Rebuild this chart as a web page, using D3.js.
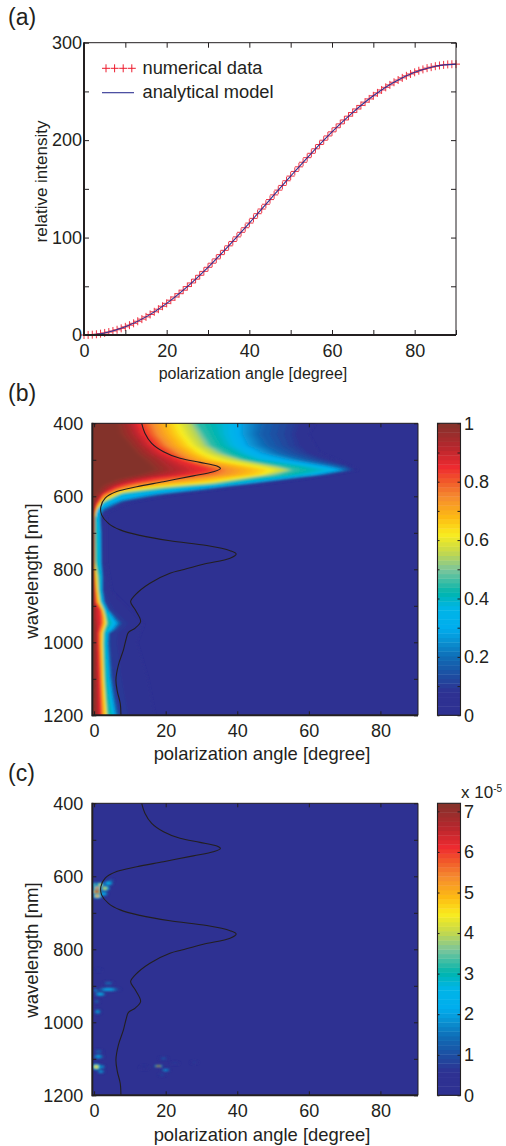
<!DOCTYPE html>
<html><head><meta charset="utf-8">
<script src="https://cdn.jsdelivr.net/npm/d3@7"></script>
<style>
html,body{margin:0;padding:0;background:#fff}
svg{display:block}
text{font-family:"Liberation Sans",Arial,sans-serif;fill:#231f20}
</style></head><body><div id="chart"></div>
<script>
// ---------- data ----------
const numericalData=[0,.08,.34,.76,1.35,2.11,3.04,4.13,5.38,6.8,8.38,10.1,12,14.1,16.3,18.6,21.1,23.8,26.5,29.5,32.5,35.7,39,42.4,46,49.7,53.4,57.3,61.3,65.3,69.5,73.7,78.1,82.5,86.9,91.5,96,100.7,105.4,110.1,114.9,119.7,124.5,129.3,134.2,139,143.8,148.7,153.5,158.3,163.1,167.9,172.6,177.3,182,186.5,191.1,195.5,199.9,204.3,208.5,212.7,216.7,220.7,224.6,228.3,232,235.6,239,242.3,245.5,248.5,251.5,254.2,256.7,259.4,261.7,263.9,266,267.9,269.6,271.2,272.6,273.9,274.9,275.9,276.6,277.2,277.7,277.9,278];
const modelAngles=[0,5,10,15,20,25,30,35,40,45,50,55,60,65,70,75,80,85,90];
const modelValues=[0,2.1,8.4,18.6,32.5,49.7,69.5,91.5,114.9,139,163.1,186.5,208.5,228.3,245.5,259.4,269.6,275.9,278];

// black overlay curve: [wavelength, angle]
const overlayCurve=[[400,13.3],[427,14.2],[455,16.1],[478,19.4],[496,24],[507,29.6],[517,34.3],[524,35.3],[533,33.3],[544,27.7],[560,19.4],[574,11.9],[587,6.3],[605,3.1],[628,1.9],[651,2.1],[674,4],[692,7.3],[707,12.8],[722,21.2],[735,31.5],[749,38],[758,39.7],[770,38],[786,30.5],[802,24.5],[811,21.2],[838,15.6],[870,11.5],[889,10.2],[911,11.5],[943,13],[961,11.5],[973,9.6],[993,8.9],[1021,8.2],[1062,6.8],[1103,6.1],[1135,6.5],[1167,7.3],[1200,7.5]];

// iso-intensity outlines of panel (b): [wavelength, angle]
const contour02=[[400,62],[430,60],[480,63],[500,68],[528,74],[551,60],[574,41],[592,25],[615,11],[642,4],[660,3.5],[780,3.5],[860,5],[900,9],[950,14],[1000,12],[1100,15],[1200,17]];
const contour08=[[400,56],[430,55],[460,56],[482,59],[500,64],[517,70.7],[528,72.4],[540,66],[551,57],[563,47],[574,38],[582,32],[592,22],[615,8],[642,2.6],[660,1.8],[700,2.2],[780,2.2],[820,2.6],[857,2.6],[890,3.2],[911,4.3],[930,6.4],[948,8],[965,6.4],[975,4.5],[1003,4.5],[1094,5.2],[1149,6.1],[1200,7.1]];
const contour15=[[400,48],[430,47],[460,49],[482,53],[500,59],[517,68],[528,71],[540,64],[551,55],[563,45],[574,36],[582,30],[592,20],[612,8],[638,2.5],[655,1.6],[700,1.9],[780,2],[820,2.3],[857,2.3],[890,2.9],[911,4],[930,5.7],[948,7.2],[965,5.8],[975,4.2],[1003,4.1],[1094,4.8],[1149,5.6],[1200,6.6]];
const contour25=[[400,41.5],[430,41.5],[460,43],[482,47],[500,54],[517,64],[528,69],[540,62],[551,53],[563,43],[574,34],[582,27],[592,18],[610,7.5],[632,2.4],[650,1.5],[700,1.7],[780,1.8],[820,2.1],[857,2.1],[890,2.6],[911,3.6],[930,5],[948,6.3],[965,5],[975,3.8],[1003,3.6],[1094,4.2],[1149,5],[1200,5.8]];
const contour35=[[400,37.5],[430,37.5],[460,39],[482,42.5],[500,47],[517,60],[528,66],[540,60],[551,50],[563,40],[570,34],[580,22],[596,8],[621,2.6],[642,.8],[700,1.3],[780,1.5],[820,1.9],[857,1.9],[890,2.2],[911,3.3],[930,4.4],[948,5.2],[965,4.1],[975,3.4],[1003,3.3],[1094,3.9],[1149,4.5],[1200,5.4]];
const contour43=[[400,29],[430,31],[460,33],[482,37],[500,42],[517,52],[528,56],[540,52],[551,44],[563,36],[566,34],[578,20],[592,8],[617,2.6],[638,.7],[660,.3],[780,.4],[820,1.3],[857,1.4],[890,1.9],[911,2.9],[930,3.4],[948,3.8],[965,3],[975,2.8],[1003,2.7],[1094,3],[1149,3.4],[1200,3.9]];
const contour52=[[400,26.8],[430,28.5],[460,30.5],[482,34],[500,40],[517,49],[528,54],[540,49],[551,42],[564,33],[576,19],[589,8],[614,2.6],[636,.7],[660,.2],[780,.3],[820,.9],[857,1.1],[890,1.6],[911,2.6],[930,3.1],[948,3.4],[965,2.8],[975,2.5],[1003,2.4],[1094,2.7],[1149,3.1],[1200,3.5]];
const contour62=[[400,22],[430,23.5],[460,26],[482,29],[500,33],[517,43],[528,48],[540,46],[551,38],[560,32],[572,18],[585,8],[610,2.6],[633,.8],[660,.1],[780,.1],[820,.6],[857,.9],[890,1.3],[911,2.4],[930,2.9],[948,3.1],[965,2.6],[975,2.3],[1003,2.2],[1094,2.5],[1149,2.8],[1200,3.2]];
const contour72=[[400,16.6],[430,18],[460,20.6],[482,24],[500,27],[517,34],[528,37.5],[540,36],[551,28],[565,14],[580,7],[600,2.6],[627,.7],[650,0],[800,0],[857,.5],[890,.9],[911,2.1],[930,2.5],[948,2.5],[975,1.7],[1003,1.7],[1094,2],[1149,2.2],[1200,2.4]];
const contour82=[[400,12.8],[430,14.5],[460,17],[482,20],[500,24],[517,29],[528,32],[541,27],[550,18],[569,8],[592,2.6],[620,.8],[645,0],[840,0],[857,.1],[890,.3],[911,1.7],[948,1.9],[975,1.2],[1003,1.2],[1094,1.5],[1149,1.7],[1200,1.9]];
const contour92=[[400,9.2],[430,10.5],[460,12.8],[482,15],[500,18],[517,20],[528,21],[541,17],[555,9],[575,4],[600,1.2],[625,0],[930,0],[960,.5],[1200,.7]];
const contour98=[[400,5.9],[430,6.5],[460,9.2],[482,11],[500,13],[517,15],[528,15.6],[541,11],[552,6],[568,2],[590,.3],[610,0],[1200,0]];
const contourLevels=[.02,.08,.15,.25,.35,.43,.52,.62,.72,.82,.92,.98];
const contourLines=[contour02,contour08,contour15,contour25,contour35,contour43,contour52,contour62,contour72,contour82,contour92,contour98];

// hot spots of panel (c): angle, wavelength, value (x 1e-5), radius in degrees, radius in nm
const spotAngles=[.75,.9,.9,.5,3,4,2.6,1.7,4.6, 4,.75,4,1.7,.75,1,1.2,1.2,1.2,.6,1.9,1.9,18,19.4,20,19,22.6,28,14];
const spotWaves=[642,633,654,624,633,619,648,624,613, 893,912,910,923,943,971,857,1080,1094,1122,1122,1135,1120,1099,1131,1144,1112,1110,1124];
const spotValues=[6.8,5.6,5,4,4.2,2.5,2.3,4.3,1.6, 1.4,2.2,2.2,2.3,1.3,1.9,.8,1.3,2,4.5,2.4,1.9,7,1.2,2,1,.8,.8,.4];
const spotRadA=[.9,.9,.9,.8,1,1,1,.9,.8, 1.2,.8,2.4,1.2,.7,.8,.8,1.1,1.2,1,.9,.9,.8,1,1,.8,.9,.8,1];
const spotRadW=[5,5,5,5,5,5,5,5,4, 4,4,4,4,4,5,3,4,5,6,4,4,2,3,3,3,3,3,4];

const colorStops=[0,.08,.13,.2,.25,.3,.37,.42,.5,.56,.62,.68,.75,.8,.85,.92,1];
const colorValues=["#2e3192","#2e3192","#1f4a9f","#0f6cb6","#0a8fd0","#00aeef","#00b5e6","#00b5ad","#7dc69b","#c5d94a","#f9ec1f","#fdb913","#f58a30","#f15a29","#ee2a30","#b5272d","#83332b"];

const angleTicksA=[0,10,20,30,40,50,60,70,80,90];
const angleLabels=[0,20,40,60,80];
const angleTicksB=[0,20,40,60,80];
const intensityTicks=[0,50,100,150,200,250,300];
const intensityLabels=[0,100,200,300];
const waveTicks=[400,500,600,700,800,900,1000,1100,1200];
const waveLabels=[400,600,800,1000,1200];
const barTicksB=[0,.1,.2,.3,.4,.5,.6,.7,.8,.9,1];
const barLabelsB=[0,.2,.4,.6,.8,1];
const barTicksC=[0,1,2,3,4,5,6,7];

// ---------- drawing ----------
const W=506,H=1146,ink="#231f20",tickFs=18;
const svg=d3.select("#chart").append("svg").attr("width",W).attr("height",H).attr("viewBox",`0 0 ${W} ${H}`);
const defs=svg.append("defs");
const cmap=d3.scaleLinear().domain(colorStops).range(colorValues).clamp(true);
const blur=(id,s)=>defs.append("filter").attr("id",id).attr("filterUnits","userSpaceOnUse")
  .attr("x",0).attr("y",0).attr("width",W).attr("height",H).append("feGaussianBlur").attr("stdDeviation",s);
blur("soft","1 1");blur("spot","0.85 0.8");

function clip(id,x0,y0,w,h){defs.append("clipPath").attr("id",id).append("rect").attr("x",x0).attr("y",y0).attr("width",w).attr("height",h);}

function axes(x,y,xt,xl,yt,yl,tick,yPad){
  const [x0,x1]=x.range(),y0=Math.min(...y.range()),y1=Math.max(...y.range());
  const fmt=(lab)=>d=>lab.includes(d)?d:"";
  const g=svg.append("g");
  const ax=(gen,tr)=>{const a=g.append("g").attr("transform",tr).call(gen);
    a.select(".domain").remove();a.selectAll("line").attr("stroke",ink).attr("stroke-width",1);
    a.selectAll("text").attr("font-size",tickFs).style("font-family",'"Liberation Sans"').attr("fill",ink);return a;};
  ax(d3.axisBottom(x).tickValues(xt).tickSize(-tick).tickPadding(9).tickFormat(fmt(xl)),`translate(0,${y1})`);
  ax(d3.axisTop(x).tickValues(xt).tickSize(-tick).tickFormat(()=>""),`translate(0,${y0})`);
  ax(d3.axisLeft(y).tickValues(yt).tickSize(-tick).tickPadding(yPad).tickFormat(fmt(yl)),`translate(${x0},0)`);
  ax(d3.axisRight(y).tickValues(yt).tickSize(-tick).tickFormat(()=>""),`translate(${x1},0)`);
  g.append("line").attr("x1",x0).attr("x2",x1).attr("y1",y0).attr("y2",y0).attr("stroke",ink).attr("stroke-width",1);
  g.append("line").attr("x1",x1).attr("x2",x1).attr("y1",y0).attr("y2",y1).attr("stroke",ink).attr("stroke-width",1);
  g.append("line").attr("x1",x0).attr("x2",x0).attr("y1",y0-.5).attr("y2",y1+1).attr("stroke",ink).attr("stroke-width",2);
  g.append("line").attr("x1",x0).attr("x2",x1).attr("y1",y1).attr("y2",y1).attr("stroke",ink).attr("stroke-width",2);
}
function label(t,x,y,size,anchor,rot){
  return svg.append("text").text(t).attr("font-size",size).attr("text-anchor",anchor)
    .attr("transform",`translate(${x},${y})`+(rot?" rotate(-90)":""));
}

// panel (a)
{
  const x=d3.scaleLinear().domain([0,90]).range([84,456]);
  const y=d3.scaleLinear().domain([0,300]).range([335,42.7]);
  const plus=(g,px,py)=>g.append("path").attr("d",`M${px-4},${py}H${px+4}M${px},${py-4}V${py+4}`)
      .attr("stroke","#ed1c2e").attr("stroke-width",1).attr("fill","none");
  const m=svg.append("g").attr("opacity",.9);
  numericalData.forEach((v,i)=>plus(m,x(i),y(v)));
  svg.append("path").datum(modelValues).attr("fill","none").attr("stroke","#2e3192").attr("stroke-width",1.1)
    .attr("d",d3.line().x((d,i)=>x(modelAngles[i])).y(d=>y(d)).curve(d3.curveCatmullRom));
  axes(x,y,angleTicksA,angleLabels,intensityTicks,intensityLabels,5,2);
  const lg=svg.append("g");
  [106,114.6,123.2,131.8].forEach(px=>plus(lg,px,68.3));
  lg.append("line").attr("x1",102).attr("x2",134).attr("y1",92.7).attr("y2",92.7).attr("stroke","#2e3192").attr("stroke-width",1.1);
  label("numerical data",142.5,74,18.3,"start");
  label("analytical model",142.5,97.5,18.3,"start");
  label("relative intensity",46.5,181.5,17,"middle",true);
  label("polarization angle [degree]",253,379,16,"middle");
  label("(a)",8,25,23,"start");
}

// shared for (b) and (c)
function heatAxes(y0,y1){
  const x=d3.scaleLinear().domain([-.5,90.5]).range([92.3,418]);
  const y=d3.scaleLinear().domain([400,1200]).range([y0,y1]);
  return {x,y};
}
function overlay(s){
  svg.append("path").datum(overlayCurve).attr("fill","none").attr("stroke","#231f20").attr("stroke-width",1.1)
    .attr("d",d3.line().x(d=>s.x(d[1])).y(d=>s.y(d[0])).curve(d3.curveCatmullRom));
}
function colorbar(y0,y1,dom,ticks,labels,fmt){
  const by=d3.scaleLinear().domain(dom).range([y1,y0]);
  const N=64,h=(y1-y0)/N,g=svg.append("g");
  g.selectAll("rect").data(d3.range(N)).join("rect").attr("x",437.5).attr("width",23)
    .attr("y",i=>y1-(i+1)*h).attr("height",h+.4).attr("fill",i=>cmap((i+.5)/N));
  g.append("rect").attr("x",437.5).attr("y",y0).attr("width",23).attr("height",y1-y0).attr("fill","none").attr("stroke",ink).attr("stroke-width",1.1);
  const a=g.append("g").attr("transform","translate(460.5,0)").call(d3.axisRight(by).tickValues(ticks).tickSize(-3).tickPadding(3.5).tickFormat(d=>labels.includes(d)?fmt(d):""));
  a.select(".domain").remove();a.selectAll("line").attr("stroke",ink);
  a.selectAll("text").attr("font-size",tickFs).style("font-family",'"Liberation Sans"').attr("fill",ink);
  const b=g.append("g").attr("transform","translate(437.5,0)").call(d3.axisLeft(by).tickValues(ticks).tickSize(-2).tickFormat(()=>""));
  b.select(".domain").remove();b.selectAll("line").attr("stroke",ink);
}

// panel (b)
{
  const s=heatAxes(423.3,715.3);
  clip("cb",92.3,423.3,325.7,292);
  const o=svg.append("g").attr("clip-path","url(#cb)");
  o.append("rect").attr("x",92).attr("y",423).attr("width",327).attr("height",293).attr("fill",cmap(0));
  const f=o.append("g").attr("filter","url(#soft)");
  // 60-odd painted bands (as in the colour bar) between the read outlines
  const rows=d3.range(400,1201,2);
  const profile=contourLines.map(c=>{const p=d3.scaleLinear().domain(c.map(d=>d[0])).range(c.map(d=>d[1]));return rows.map(w=>p(w));});
  const bands=[];
  contourLevels.slice(0,-1).forEach((L,i)=>{
    const n=Math.max(2,Math.round((contourLevels[i+1]-L)*64));
    for(let k=0;k<n;k++){const t=k/n;
      bands.push({level:L+(contourLevels[i+1]-L)*t,a:rows.map((w,r)=>profile[i][r]*(1-t)+profile[i+1][r]*t)});}
  });
  bands.push({level:.98,a:profile[profile.length-1]});
  const area=d3.area().x0(s.x(-6)).x1(d=>s.x(d[1])).y(d=>s.y(d[0]));
  f.selectAll("path").data(bands).join("path")
    .attr("d",b=>area([[370,b.a[0]],...rows.map((w,r)=>[w,b.a[r]]),[1230,b.a[b.a.length-1]]]))
    .attr("fill",b=>cmap(b.level+.03));
  overlay(s);
  axes(s.x,s.y,angleTicksB,angleLabels,waveTicks,waveLabels,4,9);
  colorbar(423.3,715.3,[0,1],barTicksB,barLabelsB,d=>d);
  label("wavelength [nm]",38,571,18.6,"middle",true);
  label("polarization angle [degree]",262,760,18.4,"middle");
  label("(b)",8,401,23,"start");
}

// panel (c)
{
  const s=heatAxes(803.3,1095.3);
  clip("cc",92.3,803.3,325.7,292);
  const o=svg.append("g").attr("clip-path","url(#cc)");
  o.append("rect").attr("x",92).attr("y",803).attr("width",327).attr("height",293).attr("fill",cmap(0));
  const f=o.append("g").attr("filter","url(#spot)");
  const vmax=7.2,shells=[1,.72,.45,.22];
  const order=d3.range(spotValues.length).sort((a,b)=>spotValues[a]-spotValues[b]);
  order.forEach(i=>{
    shells.slice().reverse().forEach(k=>{
      f.append("ellipse").attr("cx",s.x(spotAngles[i])).attr("cy",s.y(spotWaves[i]))
       .attr("rx",(s.x(spotRadA[i])-s.x(0))*(1.5-k)*1.2)
       .attr("ry",(s.y(400+spotRadW[i])-s.y(400))*(1.5-k)*1.2)
       .attr("fill",cmap(spotValues[i]/vmax*k));
    });
  });
  overlay(s);
  axes(s.x,s.y,angleTicksB,angleLabels,waveTicks,waveLabels,4,9);
  colorbar(803.3,1095.3,[0,7.2],barTicksC,barTicksC,d=>d);
  label("wavelength [nm]",38,950,18.6,"middle",true);
  label("polarization angle [degree]",262,1141,18.4,"middle");
  label("(c)",8,781,23,"start");
  const t=svg.append("text").attr("x",461).attr("y",798).attr("font-size",17);
  t.append("tspan").text("x 10");
  t.append("tspan").text("-5").attr("font-size",10).attr("dy",-6);
}
</script></body></html>
